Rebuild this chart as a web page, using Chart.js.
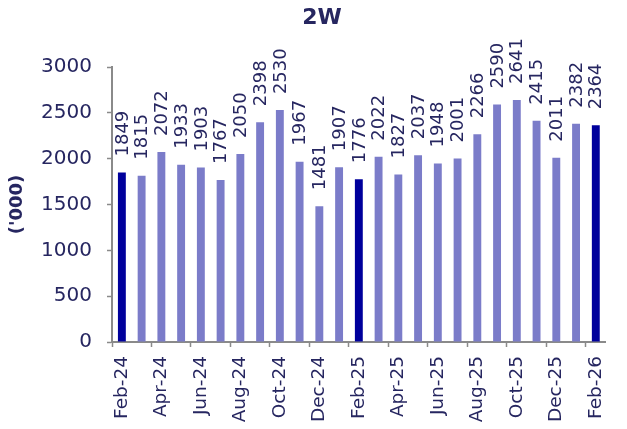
<!DOCTYPE html>
<html>
<head>
<meta charset="utf-8">
<script src="https://cdn.jsdelivr.net/npm/chart.js@4.4.1/dist/chart.umd.min.js"></script>
<style>
  html, body { margin: 0; padding: 0; background: #ffffff; }
  #wrap { width: 627px; height: 429px; position: relative; }
</style>
</head>
<body>
<div id="wrap"><canvas id="c" width="627" height="429"></canvas></div>
<script>
// Monthly two-wheeler volumes, thousands of units
const months = [
  'Feb-24','Mar-24','Apr-24','May-24','Jun-24','Jul-24','Aug-24','Sep-24','Oct-24','Nov-24','Dec-24','Jan-25',
  'Feb-25','Mar-25','Apr-25','May-25','Jun-25','Jul-25','Aug-25','Sep-25','Oct-25','Nov-25','Dec-25','Jan-26','Feb-26'
];
const volumes = [
  1849, 1815, 2072, 1933, 1903, 1767, 2050, 2398, 2530, 1967, 1481, 1907,
  1776, 2022, 1827, 2037, 1948, 2001, 2266, 2590, 2641, 2415, 2011, 2382, 2364
];
const yTicks = [0, 500, 1000, 1500, 2000, 2500, 3000];

const INK = '#262660';
const AXIS = '#8a8a8a';
const BAR = '#7b7cc9';
const BAR_FEB = '#00009c';
const FONT = '"DejaVu Sans", sans-serif';

// Draws the value above each bar, reading upward
const barValueLabels = {
  id: 'barValueLabels',
  afterDatasetsDraw(chart) {
    const { ctx } = chart;
    const meta = chart.getDatasetMeta(0);
    ctx.save();
    ctx.fillStyle = INK;
    ctx.font = '18px ' + FONT;
    ctx.textAlign = 'left';
    ctx.textBaseline = 'middle';
    meta.data.forEach((bar, i) => {
      ctx.save();
      ctx.translate(bar.x, bar.y - 16);
      ctx.rotate(-Math.PI / 2);
      ctx.fillText(String(volumes[i]), 0, 1);
      ctx.restore();
    });
    ctx.restore();
  }
};

// Chart heading
const heading = {
  id: 'heading',
  afterDraw(chart) {
    const { ctx } = chart;
    ctx.save();
    ctx.fillStyle = INK;
    ctx.font = 'bold 22px ' + FONT;
    ctx.textAlign = 'center';
    ctx.textBaseline = 'middle';
    ctx.fillText('2W', 322, 18);
    ctx.restore();
  }
};

new Chart(document.getElementById('c'), {
  type: 'bar',
  data: {
    labels: months,
    datasets: [{
      data: volumes,
      backgroundColor: ctx => months[ctx.dataIndex].startsWith('Feb') ? BAR_FEB : BAR,
      barPercentage: 0.4,
      categoryPercentage: 1.0,
      borderWidth: 0
    }]
  },
  options: {
    responsive: false,
    animation: false,
    layout: { padding: { top: 67, left: 0, right: 0, bottom: 0 } },
    plugins: {
      legend: { display: false },
      title: { display: false },
      tooltip: { enabled: false }
    },
    scales: {
      x: {
        type: 'category',
        offset: true,
        afterFit(scale) { scale.height = 87; },
        grid: {
          offset: true,
          drawOnChartArea: false,
          drawTicks: true,
          tickLength: 5,
          tickWidth: 1.5,
          tickColor: c => (c.index % 2 === 0 ? AXIS : 'rgba(0,0,0,0)')
        },
        border: { display: true, color: AXIS, width: 2 },
        ticks: {
          autoSkip: false,
          maxRotation: 90,
          minRotation: 90,
          padding: 9,
          color: INK,
          font: { family: FONT, size: 18.5 },
          callback: (v, i) => (i % 2 === 0 ? months[i] : '')
        }
      },
      y: {
        min: 0,
        max: 3000,
        afterFit(scale) { scale.width = 112; },
        afterBuildTicks(scale) { scale.ticks = yTicks.map(v => ({ value: v })); },
        grid: {
          drawOnChartArea: false,
          drawTicks: true,
          tickLength: 5,
          tickWidth: 1.5,
          tickColor: AXIS
        },
        border: { display: true, color: AXIS, width: 2 },
        ticks: {
          padding: 15,
          color: INK,
          font: { family: FONT, size: 20 },
          callback: v => String(v)
        },
        title: {
          display: true,
          text: "('000)",
          color: INK,
          font: { family: FONT, size: 18, weight: 'bold' },
          padding: { top: 7, bottom: 0 }
        }
      }
    }
  },
  plugins: [barValueLabels, heading]
});
</script>
</body>
</html>
